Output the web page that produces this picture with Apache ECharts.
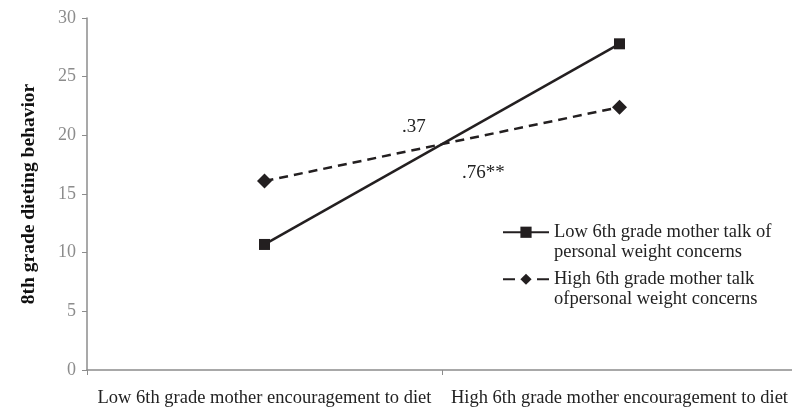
<!DOCTYPE html>
<html><head><meta charset="utf-8">
<script src="https://cdn.jsdelivr.net/npm/echarts@6/dist/echarts.min.js"></script>
<style>html,body{margin:0;padding:0;background:#fff}#c{width:792px;height:414px}</style>
</head><body><div id="c"></div>
<script>
var categories = ['Low 6th grade mother encouragement to diet', 'High 6th grade mother encouragement to diet'];
var lowTalk = [10.7, 27.8];
var highTalk = [16.1, 22.4];
var yTicks = [0, 5, 10, 15, 20, 25, 30];
var seriesNames = ['Low 6th grade mother talk of\npersonal weight concerns', 'High 6th grade mother talk\nofpersonal weight concerns'];
var notes = ['.37', '.76**'];

var font = '"Liberation Serif", "Times New Roman", serif';
var ink = '#231f20';
var chart = echarts.init(document.getElementById('c'));
chart.setOption({
  animation: false,
  backgroundColor: '#fff',
  grid: {left: 87, width: 710, top: 18, bottom: 44, containLabel: false, outerBoundsMode: 'none'},
  xAxis: {
    type: 'category', data: categories, boundaryGap: true,
    axisLine: {lineStyle: {color: '#8c8c8c', width: 1.5}},
    axisTick: {show: true, length: 5, lineStyle: {color: '#8c8c8c'}},
    axisLabel: {color: '#222', fontFamily: font, fontSize: 18.5, margin: 19, interval: 0}
  },
  yAxis: {
    type: 'value', min: yTicks[0], max: yTicks[yTicks.length - 1], interval: 5,
    name: '8th grade dieting behavior', nameLocation: 'middle', nameGap: 48,
    nameTextStyle: {color: '#111', fontFamily: font, fontSize: 19.5, fontWeight: 'bold'},
    axisLine: {show: true, lineStyle: {color: '#8c8c8c', width: 1.5}},
    axisTick: {show: true, length: 5, lineStyle: {color: '#8c8c8c'}},
    splitLine: {show: false},
    axisLabel: {color: '#8c8c8c', fontFamily: font, fontSize: 18, margin: 11}
  },
  legend: {
    orient: 'vertical', left: 497, top: 198, itemWidth: 46, itemHeight: 14, itemGap: -11.5,
    textStyle: {color: '#222', fontFamily: font, fontSize: 18.5, lineHeight: 19.5},
    formatter: function (name) { return ' \n' + name; },
    data: [
      {name: seriesNames[0]},
      {name: seriesNames[1], lineStyle: {type: [12, 22]}}
    ]
  },
  series: [
    {name: seriesNames[0], type: 'line', data: lowTalk, symbol: 'rect', symbolSize: 11,
     lineStyle: {color: ink, width: 2.5}, itemStyle: {color: ink}},
    {name: seriesNames[1], type: 'line', data: highTalk, symbol: 'diamond', symbolSize: 15,
     lineStyle: {color: ink, width: 2.5, type: [9, 6]}, itemStyle: {color: ink}}
  ],
  graphic: [
    {type: 'text', left: 402, top: 118, style: {text: notes[0], font: '19px ' + font, fill: '#222'}},
    {type: 'text', left: 462, top: 164, style: {text: notes[1], font: '19px ' + font, fill: '#222'}}
  ]
});
</script></body></html>
